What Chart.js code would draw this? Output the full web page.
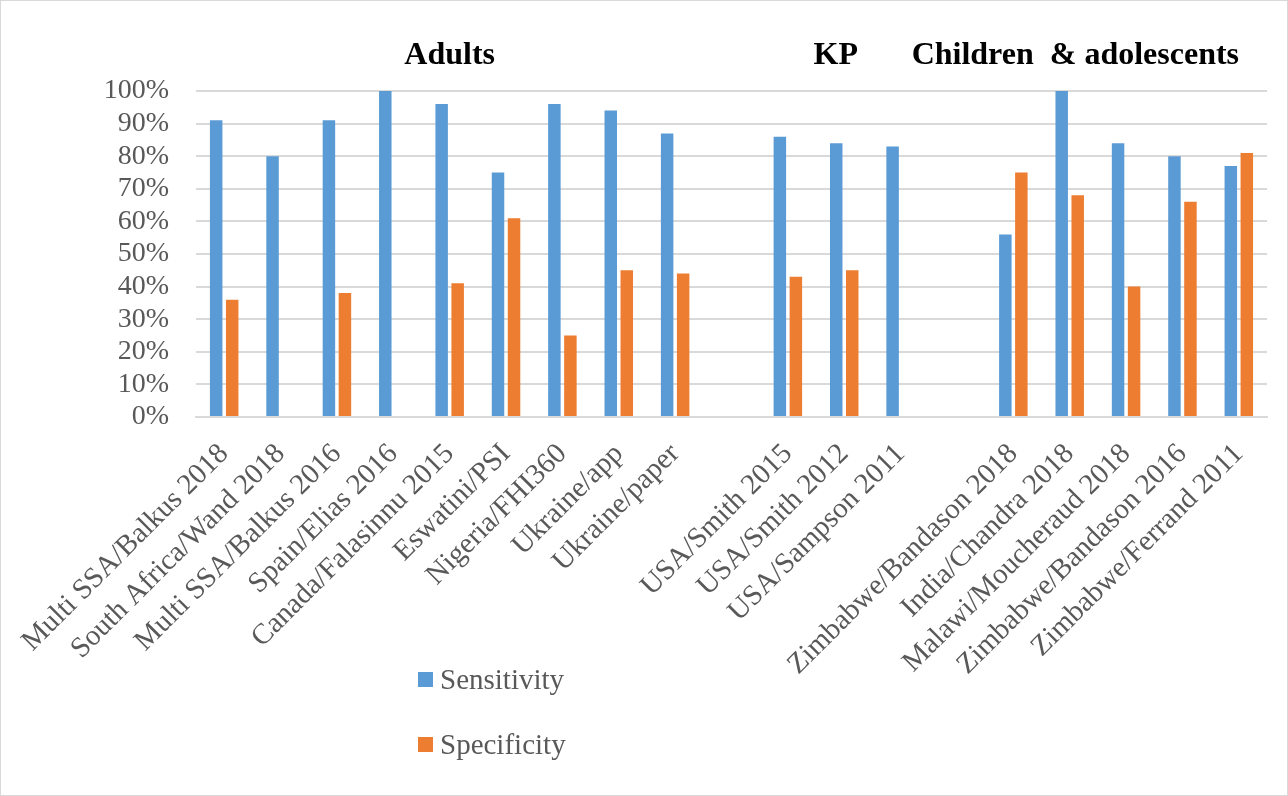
<!DOCTYPE html>
<html>
<head>
<meta charset="utf-8">
<script src="https://cdn.jsdelivr.net/npm/chart.js@4/dist/chart.umd.min.js"></script>
<style>
  html, body { margin: 0; padding: 0; background: #ffffff; }
  #wrap { position: relative; width: 1288px; height: 796px; box-sizing: border-box; border: 1px solid #d9d9d9; }
  canvas { display: block; }
</style>
</head>
<body>
<div id="wrap"><canvas id="chart" width="1286" height="794"></canvas></div>
<script>
// Study labels; empty strings leave a gap between the study groups
const categories = [
  'Multi SSA/Balkus 2018', 'South Africa/Wand 2018', 'Multi SSA/Balkus 2016',
  'Spain/Elias 2016', 'Canada/Falasinnu 2015', 'Eswatini/PSI', 'Nigeria/FHI360',
  'Ukraine/app', 'Ukraine/paper', '',
  'USA/Smith 2015', 'USA/Smith 2012', 'USA/Sampson 2011', '',
  'Zimbabwe/Bandason 2018', 'India/Chandra 2018', 'Malawi/Moucheraud 2018',
  'Zimbabwe/Bandason 2016', 'Zimbabwe/Ferrand 2011'
];

// Percent values per study (null = not reported)
const sensitivity = [91, 80, 91, 100, 96, 75, 96, 94, 87, null, 86, 84, 83, null, 56, 100, 84, 80, 77];
const specificity = [36, null, 38, null, 41, 61, 25, 45, 44, null, 43, 45, null, null, 75, 68, 40, 66, 81];

const seriesNames = ['Sensitivity', 'Specificity'];
const seriesColors = ['#5B9BD5', '#ED7D31'];

// Group headings and the category position each one sits over
const groupTitles = ['Adults', 'KP', 'Children  & adolescents'];
const groupAt = [4.0, 10.85, 15.1];

const yMin = 0, yMax = 100, yStep = 10;

const SERIF = '"Liberation Serif", "Times New Roman", serif';
const TEXT_GREY = '#595959';

const headingsPlugin = {
  id: 'groupHeadings',
  afterDraw(chart) {
    const ctx = chart.ctx;
    const xs = chart.scales.x;
    ctx.save();
    ctx.font = 'bold 32px ' + SERIF;
    ctx.fillStyle = '#000000';
    ctx.textAlign = 'center';
    ctx.textBaseline = 'alphabetic';
    groupTitles.forEach((t, i) => {
      ctx.fillText(t, xs.getPixelForValue(groupAt[i]), 63);
    });
    ctx.restore();
  }
};

const legendPlugin = {
  id: 'stackedLegend',
  afterDraw(chart) {
    const ctx = chart.ctx;
    ctx.save();
    ctx.font = '29px ' + SERIF;
    ctx.textBaseline = 'middle';
    ctx.textAlign = 'left';
    chart.data.datasets.forEach((ds, i) => {
      const cy = 679 + i * 65;
      ctx.fillStyle = ds.backgroundColor;
      ctx.fillRect(417, cy - 8, 15, 15);
      ctx.fillStyle = TEXT_GREY;
      ctx.fillText(ds.label, 439, cy + 1);
    });
    ctx.restore();
  }
};

new Chart(document.getElementById('chart'), {
  type: 'bar',
  data: {
    labels: categories,
    datasets: [
      { label: seriesNames[0], data: sensitivity, backgroundColor: seriesColors[0],
        categoryPercentage: 0.568, barPercentage: 0.78 },
      { label: seriesNames[1], data: specificity, backgroundColor: seriesColors[1],
        categoryPercentage: 0.568, barPercentage: 0.78 }
    ]
  },
  options: {
    responsive: false,
    animation: false,
    devicePixelRatio: 1,
    layout: { padding: { top: 90, right: 20, bottom: 0, left: 0 } },
    plugins: {
      legend: { display: false },
      tooltip: { enabled: false }
    },
    scales: {
      x: {
        grid: { display: false, drawTicks: false },
        border: { display: true, color: '#d9d9d9', width: 2 },
        ticks: {
          autoSkip: false,
          minRotation: 45,
          maxRotation: 45,
          padding: 20,
          color: TEXT_GREY,
          font: { family: SERIF, size: 29 }
        },
        afterFit(scale) { scale.height = 794 - 416; }
      },
      y: {
        min: yMin,
        max: yMax,
        border: { display: false },
        grid: { color: '#d9d9d9', lineWidth: 2, drawTicks: false },
        ticks: {
          autoSkip: false,
          stepSize: yStep,
          padding: 27,
          color: TEXT_GREY,
          font: { family: SERIF, size: 28 },
          callback: v => v + '%'
        },
        afterFit(scale) { scale.width = 195; }
      }
    }
  },
  plugins: [headingsPlugin, legendPlugin]
});
</script>
</body>
</html>
